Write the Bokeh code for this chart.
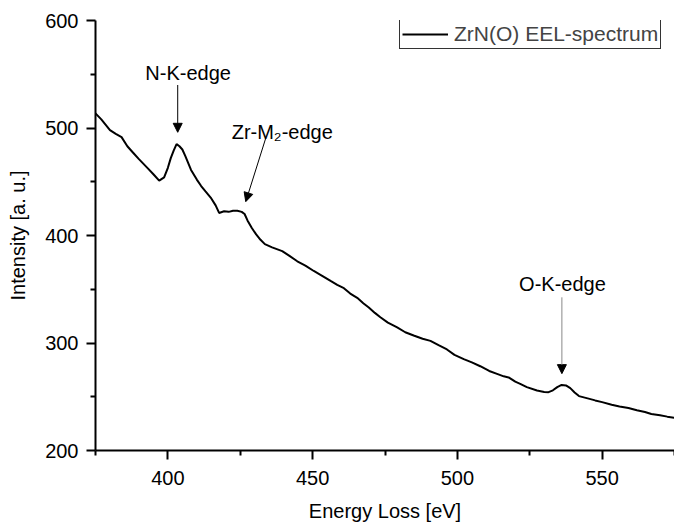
from bokeh.plotting import figure
from bokeh.models import Range1d, FixedTicker, Arrow, NormalHead, Label, Legend, LegendItem
from bokeh.embed import file_html
from bokeh.resources import INLINE

# Data
energy = [375, 377, 380, 382, 384, 386, 388, 390, 393, 395, 397, 398.7, 400, 401, 402,
          403, 404, 405, 406, 408, 410, 411.5, 413, 415, 416.5, 417.7, 419.4, 421, 422.5,
          424, 425.5, 426.5, 427.5, 429, 430.5, 432, 433.5, 436, 439.5, 442, 444.7, 447.5,
          450.4, 453, 456.2, 458.5, 460.8, 463, 465.4, 467.5, 469.4, 471.5, 473.4, 476,
          479.2, 482, 484.9, 488, 490.7, 493.5, 496.4, 499, 502.2, 505, 507.9, 511, 513.7,
          516, 517.7, 520, 521.7, 524, 527.5, 530, 531.5, 533, 534.5, 536, 537.5, 539,
          540.5, 542, 545, 547.6, 550, 553.3, 556, 559.1, 562, 564.8, 567, 570, 572.5, 575]
intensity = [513.6, 508, 498, 494.5, 491.5, 483, 477, 471, 462.7, 457, 451, 454, 463, 472, 479,
             485, 483, 480, 474, 461, 452, 446, 441, 434.5, 428, 421, 422.5, 422, 423,
             423, 422, 420, 414, 407, 401, 396, 392, 389, 385.5, 381, 376, 372,
             367, 363, 357.7, 354, 351, 346, 342, 337, 333, 328, 324, 319,
             314.5, 310, 307, 304, 302, 298, 294, 289, 285, 282, 278.4, 274, 271.3,
             269, 268, 264, 262, 259, 255.8, 254.5, 254.3, 256, 259, 261, 260.5, 258,
             254, 250.6, 248.5, 246.6, 245, 242.6, 241, 239.5, 237.5, 235.8, 234, 232.7, 231.5, 230.5]

x_major = [400, 450, 500, 550]
x_minor = [375, 425, 475, 525, 575]
y_major = [200, 300, 400, 500, 600]
y_minor = [250, 350, 450, 550]

FONT = "Liberation Sans"

p = figure(width=674, height=524, x_range=Range1d(375, 575), y_range=Range1d(200, 600),
           output_backend="svg", toolbar_location=None,
           min_border_left=95, min_border_right=0, min_border_top=20, min_border_bottom=72)
p.outline_line_color = None
p.grid.visible = False
p.background_fill_color = "white"

r = p.line(energy, intensity, line_color="black", line_width=2)

p.xaxis.ticker = FixedTicker(ticks=x_major, minor_ticks=x_minor)
p.yaxis.ticker = FixedTicker(ticks=y_major, minor_ticks=y_minor)
p.xaxis.axis_label = "Energy Loss [eV]"
p.yaxis.axis_label = "Intensity [a. u.]"

for ax in (p.xaxis[0], p.yaxis[0]):
    ax.axis_line_width = 2
    ax.axis_line_color = "black"
    ax.major_tick_line_width = 2
    ax.minor_tick_line_width = 2
    ax.major_tick_line_color = "black"
    ax.minor_tick_line_color = "black"
    ax.major_tick_out = 9
    ax.major_tick_in = 0
    ax.minor_tick_out = 5
    ax.minor_tick_in = 0
    ax.major_label_text_font = FONT
    ax.major_label_text_font_size = "20px"
    ax.major_label_text_color = "black"
    ax.axis_label_text_font = FONT
    ax.axis_label_text_font_size = "20px"
    ax.axis_label_text_font_style = "normal"
    ax.axis_label_text_color = "black"

p.xaxis.major_label_standoff = 11
p.xaxis.axis_label_standoff = 12
p.yaxis.major_label_standoff = 8
p.yaxis.axis_label_standoff = 13

legend = Legend(items=[LegendItem(label="ZrN(O) EEL-spectrum", renderers=[r])],
                location=(304, 401), label_text_font=FONT, label_text_font_size="21px",
                glyph_width=46, glyph_height=20, label_standoff=6, padding=2, margin=0,
                spacing=0, label_height=20, border_line_color="black", border_line_alpha=0.8,
                border_line_width=1, background_fill_alpha=1)
p.add_layout(legend)

def add_arrow(xs, ys, xe, ye, color="black"):
    p.add_layout(Arrow(end=NormalHead(size=9, fill_color="black", line_color="black"),
                       x_start=xs, y_start=ys, x_end=xe, y_end=ye,
                       line_color=color, line_width=1))

def add_label(x, y, text):
    p.add_layout(Label(x=x, y=y, text=text, text_align="center", text_baseline="middle",
                       text_font=FONT, text_font_size="20px", text_color="black"))

add_label(407, 551, "N-K-edge")
add_arrow(403.4, 540, 403.4, 496)
add_label(439.5, 496, "Zr-M₂-edge")
add_arrow(433.8, 490.5, 426.9, 431.5)
add_label(536.3, 355, "O-K-edge")
add_arrow(536.1, 342.5, 536.1, 271.5, color="#888888")

open("out.html", "w").write(file_html(p, INLINE))
